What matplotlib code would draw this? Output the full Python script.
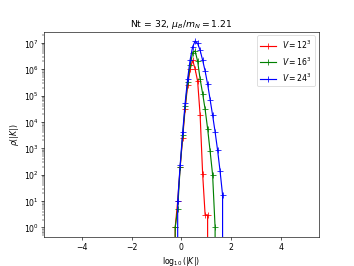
import matplotlib
matplotlib.use("Agg")
import matplotlib.pyplot as plt

# bin centres in log10(|K|)
x_bins = [-0.35, -0.25, -0.15, -0.05, 0.05, 0.15, 0.25, 0.35, 0.45, 0.55,
          0.65, 0.75, 0.85, 0.95, 1.05, 1.15, 1.25, 1.35, 1.45, 1.55,
          1.65, 1.75]

rho_12 = [0, 1, 10, 200, 2500, 32000, 2.5e5, 1.0e6, 2.2e6, 1.0e6,
          3.5e5, 1.8e4, 110, 3, 3, 0, 0, 0, 0, 0,
          0, 0]
rho_16 = [0, 1, 5, 200, 3200, 40000, 3.2e5, 1.4e6, 4.3e6, 4.9e6,
          2.0e6, 4.2e5, 1.2e5, 3.0e4, 5600, 780, 100, 1, 0, 0,
          0, 0]
rho_24 = [0, 0, 10, 240, 4000, 54000, 4.4e5, 2.3e6, 7.1e6, 1.17e7,
          9.5e6, 5.2e6, 2.2e6, 8.5e5, 2.7e5, 7.1e4, 1.8e4, 4200, 850, 135,
          17, 0]

series = [
    (rho_12, "red", r"$V = 12^3$"),
    (rho_16, "green", r"$V = 16^3$"),
    (rho_24, "blue", r"$V = 24^3$"),
]

fig, ax = plt.subplots(figsize=(6.39, 4.81), dpi=55.4)
for vals, col, lab in series:
    ax.plot(x_bins, vals, color=col, marker="+", markersize=7, label=lab)

ax.set_yscale("log")
ax.set_xlim(-5.5, 5.5)
ax.set_ylim(10 ** -0.35, 10 ** 7.43)
ax.set_title(r"Nt = 32, $\mu_B/m_N = 1.21$")
ax.set_xlabel(r"$\log_{10}(|K|)$")
ax.set_ylabel(r"$\rho(|K|)$")
ax.legend(loc="upper right")
fig.savefig("out.png", dpi=55.4)
